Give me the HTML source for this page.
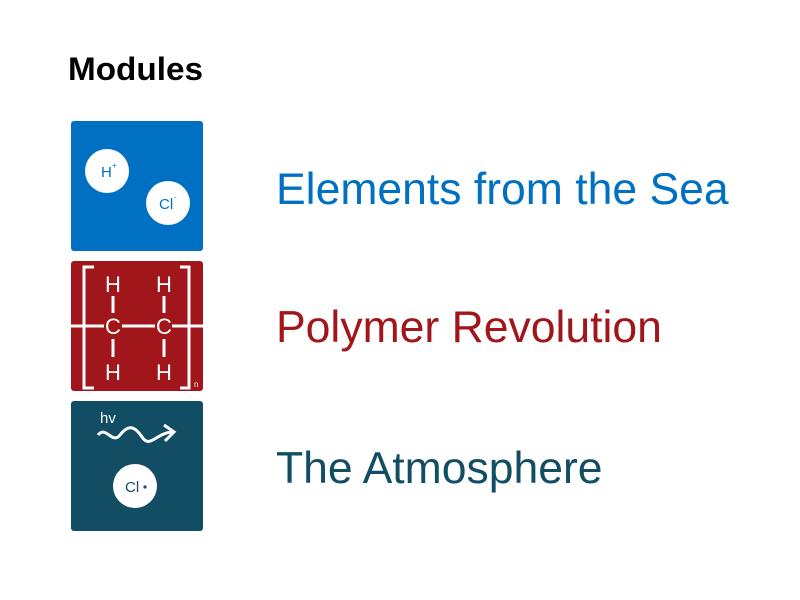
<!DOCTYPE html>
<html><head><meta charset="utf-8"><style>
html,body{margin:0;padding:0;background:#fff;width:800px;height:600px;overflow:hidden}
svg{display:block}
</style></head><body>
<svg width="800" height="600" viewBox="0 0 800 600" font-family="'Liberation Sans', Arial, sans-serif">
<text x="68" y="80" font-size="32" font-weight="bold" fill="#000" textLength="135" lengthAdjust="spacingAndGlyphs">Modules</text>

<g>
<rect x="71" y="121" width="132" height="130" rx="3" fill="#0070c2"/>
<circle cx="107" cy="171" r="22" fill="#fff"/>
<text x="101" y="177" font-size="15" fill="#0070c2">H</text>
<text x="112" y="168" font-size="8" fill="#0070c2">+</text>
<circle cx="168" cy="203" r="22" fill="#fff"/>
<text x="159" y="209" font-size="15" fill="#0070c2">Cl</text>
<text x="174" y="200" font-size="8" fill="#0070c2">-</text>
<text x="276" y="204" font-size="44.5" fill="#0070c2">Elements from the Sea</text>
</g>

<g>
<rect x="71" y="261" width="132" height="130" rx="3" fill="#a0161a"/>
<g stroke="#fff" stroke-width="3" fill="none">
<path d="M94 267 H84 V388 H94"/>
<path d="M180 267 H189 V388 H180"/>
<line x1="71" y1="326" x2="104" y2="326"/>
<line x1="122" y1="326" x2="155" y2="326"/>
<line x1="172" y1="326" x2="203" y2="326"/>
<line x1="113" y1="296" x2="113" y2="313"/>
<line x1="113" y1="339" x2="113" y2="357"/>
<line x1="164" y1="296" x2="164" y2="313"/>
<line x1="164" y1="339" x2="164" y2="357"/>
</g>
<g fill="#fff" font-size="22" text-anchor="middle">
<text x="113" y="292">H</text><text x="164" y="292">H</text>
<text x="113" y="334">C</text><text x="164" y="334">C</text>
<text x="113" y="380">H</text><text x="164" y="380">H</text>
</g>
<text x="194" y="387" font-size="8" fill="#fff">n</text>
<text x="276" y="342" font-size="44.5" fill="#a0161a">Polymer Revolution</text>
</g>

<g>
<rect x="71" y="401" width="132" height="130" rx="3" fill="#124e63"/>
<text x="100" y="423" font-size="15" fill="#fff">hv</text>
<path d="M98 435 C106 425,112 445,120 435 S134 425,142 437 S156 433,172 432" stroke="#fff" stroke-width="3" fill="none"/>
<path d="M164 425 L174 432 L165 441" stroke="#fff" stroke-width="3" fill="none"/>
<circle cx="135" cy="486" r="22" fill="#fff"/>
<text x="125" y="492" font-size="15" fill="#124e63">Cl</text>
<circle cx="145" cy="487" r="1.6" fill="#124e63"/>
<text x="276" y="483" font-size="44.5" fill="#124e63">The Atmosphere</text>
</g>
</svg>
</body></html>
